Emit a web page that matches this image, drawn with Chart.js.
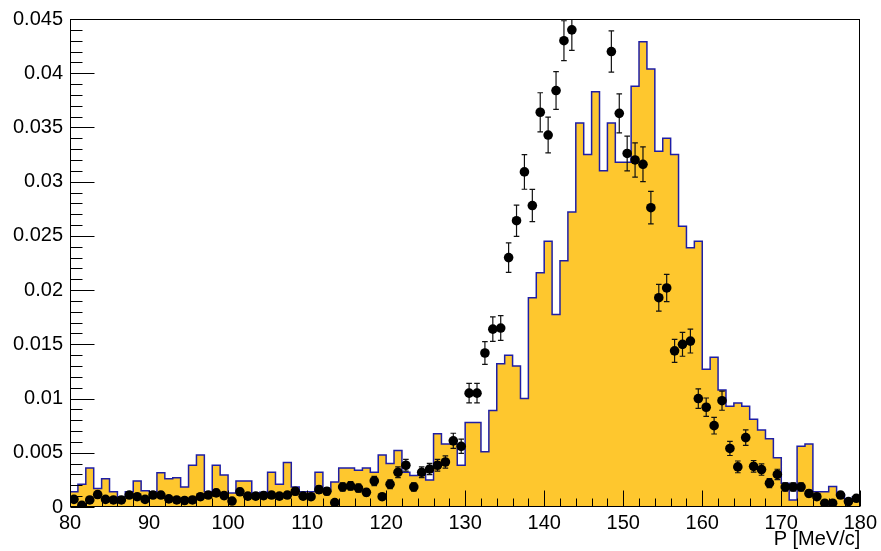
<!DOCTYPE html>
<html>
<head>
<meta charset="utf-8">
<title>P [MeV/c]</title>
<script src="https://cdn.jsdelivr.net/npm/chart.js@4/dist/chart.umd.min.js"></script>
<style>
  html, body { margin: 0; padding: 0; background: #ffffff; }
  #box { width: 881px; height: 551px; }
</style>
</head>
<body>
<div id="box"><canvas id="plot" width="881" height="551"></canvas></div>
<script>
// Momentum bins: low edges, 1 MeV/c wide, 80..180
const binLowEdges = [
  80, 81, 82, 83, 84, 85, 86, 87, 88, 89,
  90, 91, 92, 93, 94, 95, 96, 97, 98, 99,
  100, 101, 102, 103, 104, 105, 106, 107, 108, 109,
  110, 111, 112, 113, 114, 115, 116, 117, 118, 119,
  120, 121, 122, 123, 124, 125, 126, 127, 128, 129,
  130, 131, 132, 133, 134, 135, 136, 137, 138, 139,
  140, 141, 142, 143, 144, 145, 146, 147, 148, 149,
  150, 151, 152, 153, 154, 155, 156, 157, 158, 159,
  160, 161, 162, 163, 164, 165, 166, 167, 168, 169,
  170, 171, 172, 173, 174, 175, 176, 177, 178, 179
];
const binWidth = 1;

// Simulated spectrum (filled histogram)
const simulated = [
  0.0014, 0.0021, 0.0036, 0.0017, 0.0026, 0.0014, 0.00095, 0.0014, 0.0024, 0.0015,
  0.0014, 0.00315, 0.0026, 0.0027, 0.00185, 0.00385, 0.0048, 0.0014, 0.00385, 0.00295,
  0.0013, 0.0024, 0.0024, 0.0013, 0.00135, 0.0032, 0.0021, 0.0041, 0.00185, 0.0014,
  0.0014, 0.0032, 0.0015, 0.0023, 0.0036, 0.0036, 0.0034, 0.0036, 0.0032, 0.0048,
  0.0040, 0.0052, 0.0032, 0.0029, 0.0030, 0.0025, 0.00675, 0.0058, 0.0058, 0.00385,
  0.0078, 0.0078, 0.0051, 0.0089, 0.0132, 0.0140, 0.0130, 0.0100, 0.0193, 0.0216,
  0.0245, 0.01775, 0.0227, 0.0272, 0.0354, 0.0325, 0.0383, 0.0310, 0.0354, 0.0318,
  0.0318, 0.0388, 0.0429, 0.0404, 0.0328, 0.0340, 0.0325, 0.0259, 0.0239, 0.0245,
  0.0127, 0.0138, 0.0108, 0.0093, 0.0096, 0.0093, 0.0081, 0.0071, 0.0063, 0.00455,
  0.0022, 0.00064, 0.0056, 0.0058, 0.0014, 0.0014, 0.0019, 0.0011, 0.00064, 0.00095
];

// Measured spectrum (points with errors)
const measured = [
  0.0007, 0.00015, 0.00065, 0.00115, 0.0007, 0.00065, 0.00065, 0.0011, 0.00095, 0.0007,
  0.0011, 0.0011, 0.00075, 0.00065, 0.0006, 0.00065, 0.00095, 0.0011, 0.0013, 0.00105,
  0.00055, 0.0014, 0.0010, 0.0010, 0.00105, 0.0011, 0.0010, 0.0011, 0.00145, 0.0010,
  0.00095, 0.0016, 0.00145, 0.0004, 0.00185, 0.00195, 0.00175, 0.00135, 0.0024, 0.00095,
  0.0021, 0.0032, 0.00385, 0.00185, 0.0032, 0.0035, 0.00385, 0.00415, 0.0061, 0.0056,
  0.0105, 0.0105, 0.0142, 0.0164, 0.0165, 0.0230, 0.0264, 0.0309, 0.0278, 0.0364,
  0.0343, 0.0384, 0.0430, 0.0440, 0.0474, 0.0483, 0.0477, 0.0466, 0.0420, 0.0363,
  0.0326, 0.0320, 0.0316, 0.0276, 0.0193, 0.0202, 0.0144, 0.0150, 0.0153, 0.0100,
  0.0092, 0.0075, 0.0098, 0.0054, 0.0037, 0.0064, 0.00375, 0.00345, 0.0022, 0.0030,
  0.00185, 0.00185, 0.00185, 0.00125, 0.00095, 0.00035, 0.00035, 0.0011, 0.0005, 0.0008
];

const measuredErrors = [
  0.00023, 0.00011, 0.00023, 0.0003, 0.00023, 0.00023, 0.00023, 0.00029, 0.00027, 0.00023,
  0.00029, 0.00029, 0.00024, 0.00023, 0.00022, 0.00023, 0.00027, 0.00029, 0.00032, 0.00029,
  0.00021, 0.00033, 0.00028, 0.00028, 0.00029, 0.00029, 0.00028, 0.00029, 0.00034, 0.00028,
  0.00027, 0.00035, 0.00034, 0.00018, 0.00038, 0.00039, 0.00037, 0.00033, 0.00043, 0.00027,
  0.00041, 0.0005, 0.00055, 0.00038, 0.0005, 0.00052, 0.00055, 0.00057, 0.0007, 0.00066,
  0.0009, 0.0009, 0.00105, 0.00113, 0.00114, 0.00136, 0.00144, 0.0016, 0.00148, 0.0018,
  0.00165, 0.00174, 0.00184, 0.0019, 0.0019, 0.0019, 0.0019, 0.0019, 0.0019, 0.0018,
  0.0016, 0.00158, 0.0016, 0.0015, 0.00123, 0.00126, 0.00106, 0.0011, 0.0011, 0.0009,
  0.00085, 0.00077, 0.00088, 0.00065, 0.00054, 0.00071, 0.00054, 0.00052, 0.00042, 0.00048,
  0.00038, 0.00038, 0.00038, 0.00031, 0.00027, 0.00017, 0.00017, 0.00029, 0.0002, 0.00025
];

// Axis ticks and their labels
const xTickValues = [80, 90, 100, 110, 120, 130, 140, 150, 160, 170, 180];
const xTickLabels = ['80', '90', '100', '110', '120', '130', '140', '150', '160', '170', '180'];
const yTickValues = [0, 0.005, 0.01, 0.015, 0.02, 0.025, 0.03, 0.035, 0.04, 0.045];
const yTickLabels = ['0', '0.005', '0.01', '0.015', '0.02', '0.025', '0.03', '0.035', '0.04', '0.045'];
const xTitle = 'P [MeV/c]';

// Histogram outline: one vertex per bin low edge, closed at the upper edge
const histPoints = binLowEdges.map((x, i) => ({ x: x, y: simulated[i] }));
histPoints.push({ x: binLowEdges[binLowEdges.length - 1] + binWidth, y: simulated[simulated.length - 1] });

const dataPoints = binLowEdges.map((x, i) => ({ x: x + binWidth / 2, y: measured[i], err: measuredErrors[i] }));

Chart.defaults.font.family = '"Liberation Sans", Arial, Helvetica, sans-serif';
Chart.defaults.font.size = 20;
Chart.defaults.color = '#000000';

// Vertical error bars with small caps, drawn beneath the markers
const errorBars = {
  id: 'errorBars',
  beforeDatasetDraw(chart, args) {
    if (args.index !== 1) return;
    const { ctx, chartArea, scales } = chart;
    const yMax = scales.y.max;
    ctx.save();
    ctx.beginPath();
    ctx.rect(chartArea.left, chartArea.top, chartArea.right - chartArea.left, chartArea.bottom - chartArea.top);
    ctx.clip();
    ctx.strokeStyle = '#111111';
    ctx.lineWidth = 1.2;
    const cap = 2.8;
    chart.data.datasets[1].data.forEach(p => {
      if (p.y > yMax) return;
      const px = scales.x.getPixelForValue(p.x);
      const yTop = scales.y.getPixelForValue(p.y + p.err);
      const yBot = scales.y.getPixelForValue(p.y - p.err);
      ctx.beginPath();
      ctx.moveTo(px, yTop);
      ctx.lineTo(px, yBot);
      ctx.moveTo(px - cap, yTop);
      ctx.lineTo(px + cap, yTop);
      ctx.moveTo(px - cap, yBot);
      ctx.lineTo(px + cap, yBot);
      ctx.stroke();
    });
    ctx.restore();
  }
};

// Frame box with inward major/minor ticks on the bottom and left axes
const frameTicks = {
  id: 'frameTicks',
  afterDatasetsDraw(chart) {
    const { ctx, chartArea, scales } = chart;
    const L = Math.round(chartArea.left) + 0.5;
    const R = Math.round(chartArea.right) - 0.5;
    const T = Math.round(chartArea.top) + 0.5;
    const B = Math.round(chartArea.bottom) - 0.5;
    ctx.save();
    ctx.strokeStyle = '#000000';
    ctx.lineWidth = 1;
    ctx.beginPath();
    // x axis: major every 10, minor every 2
    for (let v = scales.x.min; v <= scales.x.max + 1e-9; v += 2) {
      const px = Math.round(scales.x.getPixelForValue(v)) + 0.5;
      const len = (Math.abs(v % 10) < 1e-9) ? 16 : 8;
      ctx.moveTo(px, B);
      ctx.lineTo(px, B - len);
    }
    // y axis: major every 0.005, minor every 0.001
    for (let k = 0; k <= 45; k++) {
      const v = k * 0.001;
      const py = Math.round(scales.y.getPixelForValue(v)) + 0.5;
      const len = (k % 5 === 0) ? 24 : 12;
      ctx.moveTo(L, py);
      ctx.lineTo(L + len, py);
    }
    ctx.stroke();
    ctx.strokeRect(L, T, R - L, B - T);
    ctx.restore();
  }
};

new Chart(document.getElementById('plot'), {
  data: {
    datasets: [
      {
        type: 'line',
        label: 'simulated',
        data: histPoints,
        stepped: 'before',
        fill: 'origin',
        backgroundColor: '#fec72e',
        borderColor: '#1e1ea6',
        borderWidth: 1.5,
        pointRadius: 0,
        tension: 0,
        order: 1,
        clip: 0
      },
      {
        type: 'scatter',
        label: 'measured',
        data: dataPoints,
        backgroundColor: '#000000',
        borderColor: '#000000',
        borderWidth: 0,
        pointRadius: 4.8,
        pointStyle: 'circle',
        order: 0,
        clip: 0
      }
    ]
  },
  options: {
    responsive: false,
    animation: false,
    devicePixelRatio: 1,
    layout: { padding: { top: 16, right: 19, left: 0, bottom: 0 } },
    plugins: { legend: { display: false }, tooltip: { enabled: false } },
    scales: {
      x: {
        type: 'linear',
        min: 80,
        max: 180,
        grid: { display: false, drawTicks: false },
        border: { display: false },
        afterBuildTicks: s => { s.ticks = xTickValues.map(v => ({ value: v })); },
        afterFit: s => { s.height = 44; },
        ticks: {
          padding: 4,
          maxRotation: 0,
          autoSkip: false,
          callback: (v, i) => xTickLabels[i]
        },
        title: {
          display: true,
          text: xTitle,
          align: 'end',
          font: { size: 20 },
          padding: { top: 0, bottom: 0 }
        }
      },
      y: {
        type: 'linear',
        min: 0,
        max: 0.045,
        grid: { display: false, drawTicks: false },
        border: { display: false },
        afterBuildTicks: s => { s.ticks = yTickValues.map(v => ({ value: v })); },
        afterFit: s => { s.width = 70; },
        ticks: {
          padding: 7,
          autoSkip: false,
          callback: (v, i) => yTickLabels[i]
        }
      }
    }
  },
  plugins: [errorBars, frameTicks]
});
</script>
</body>
</html>
